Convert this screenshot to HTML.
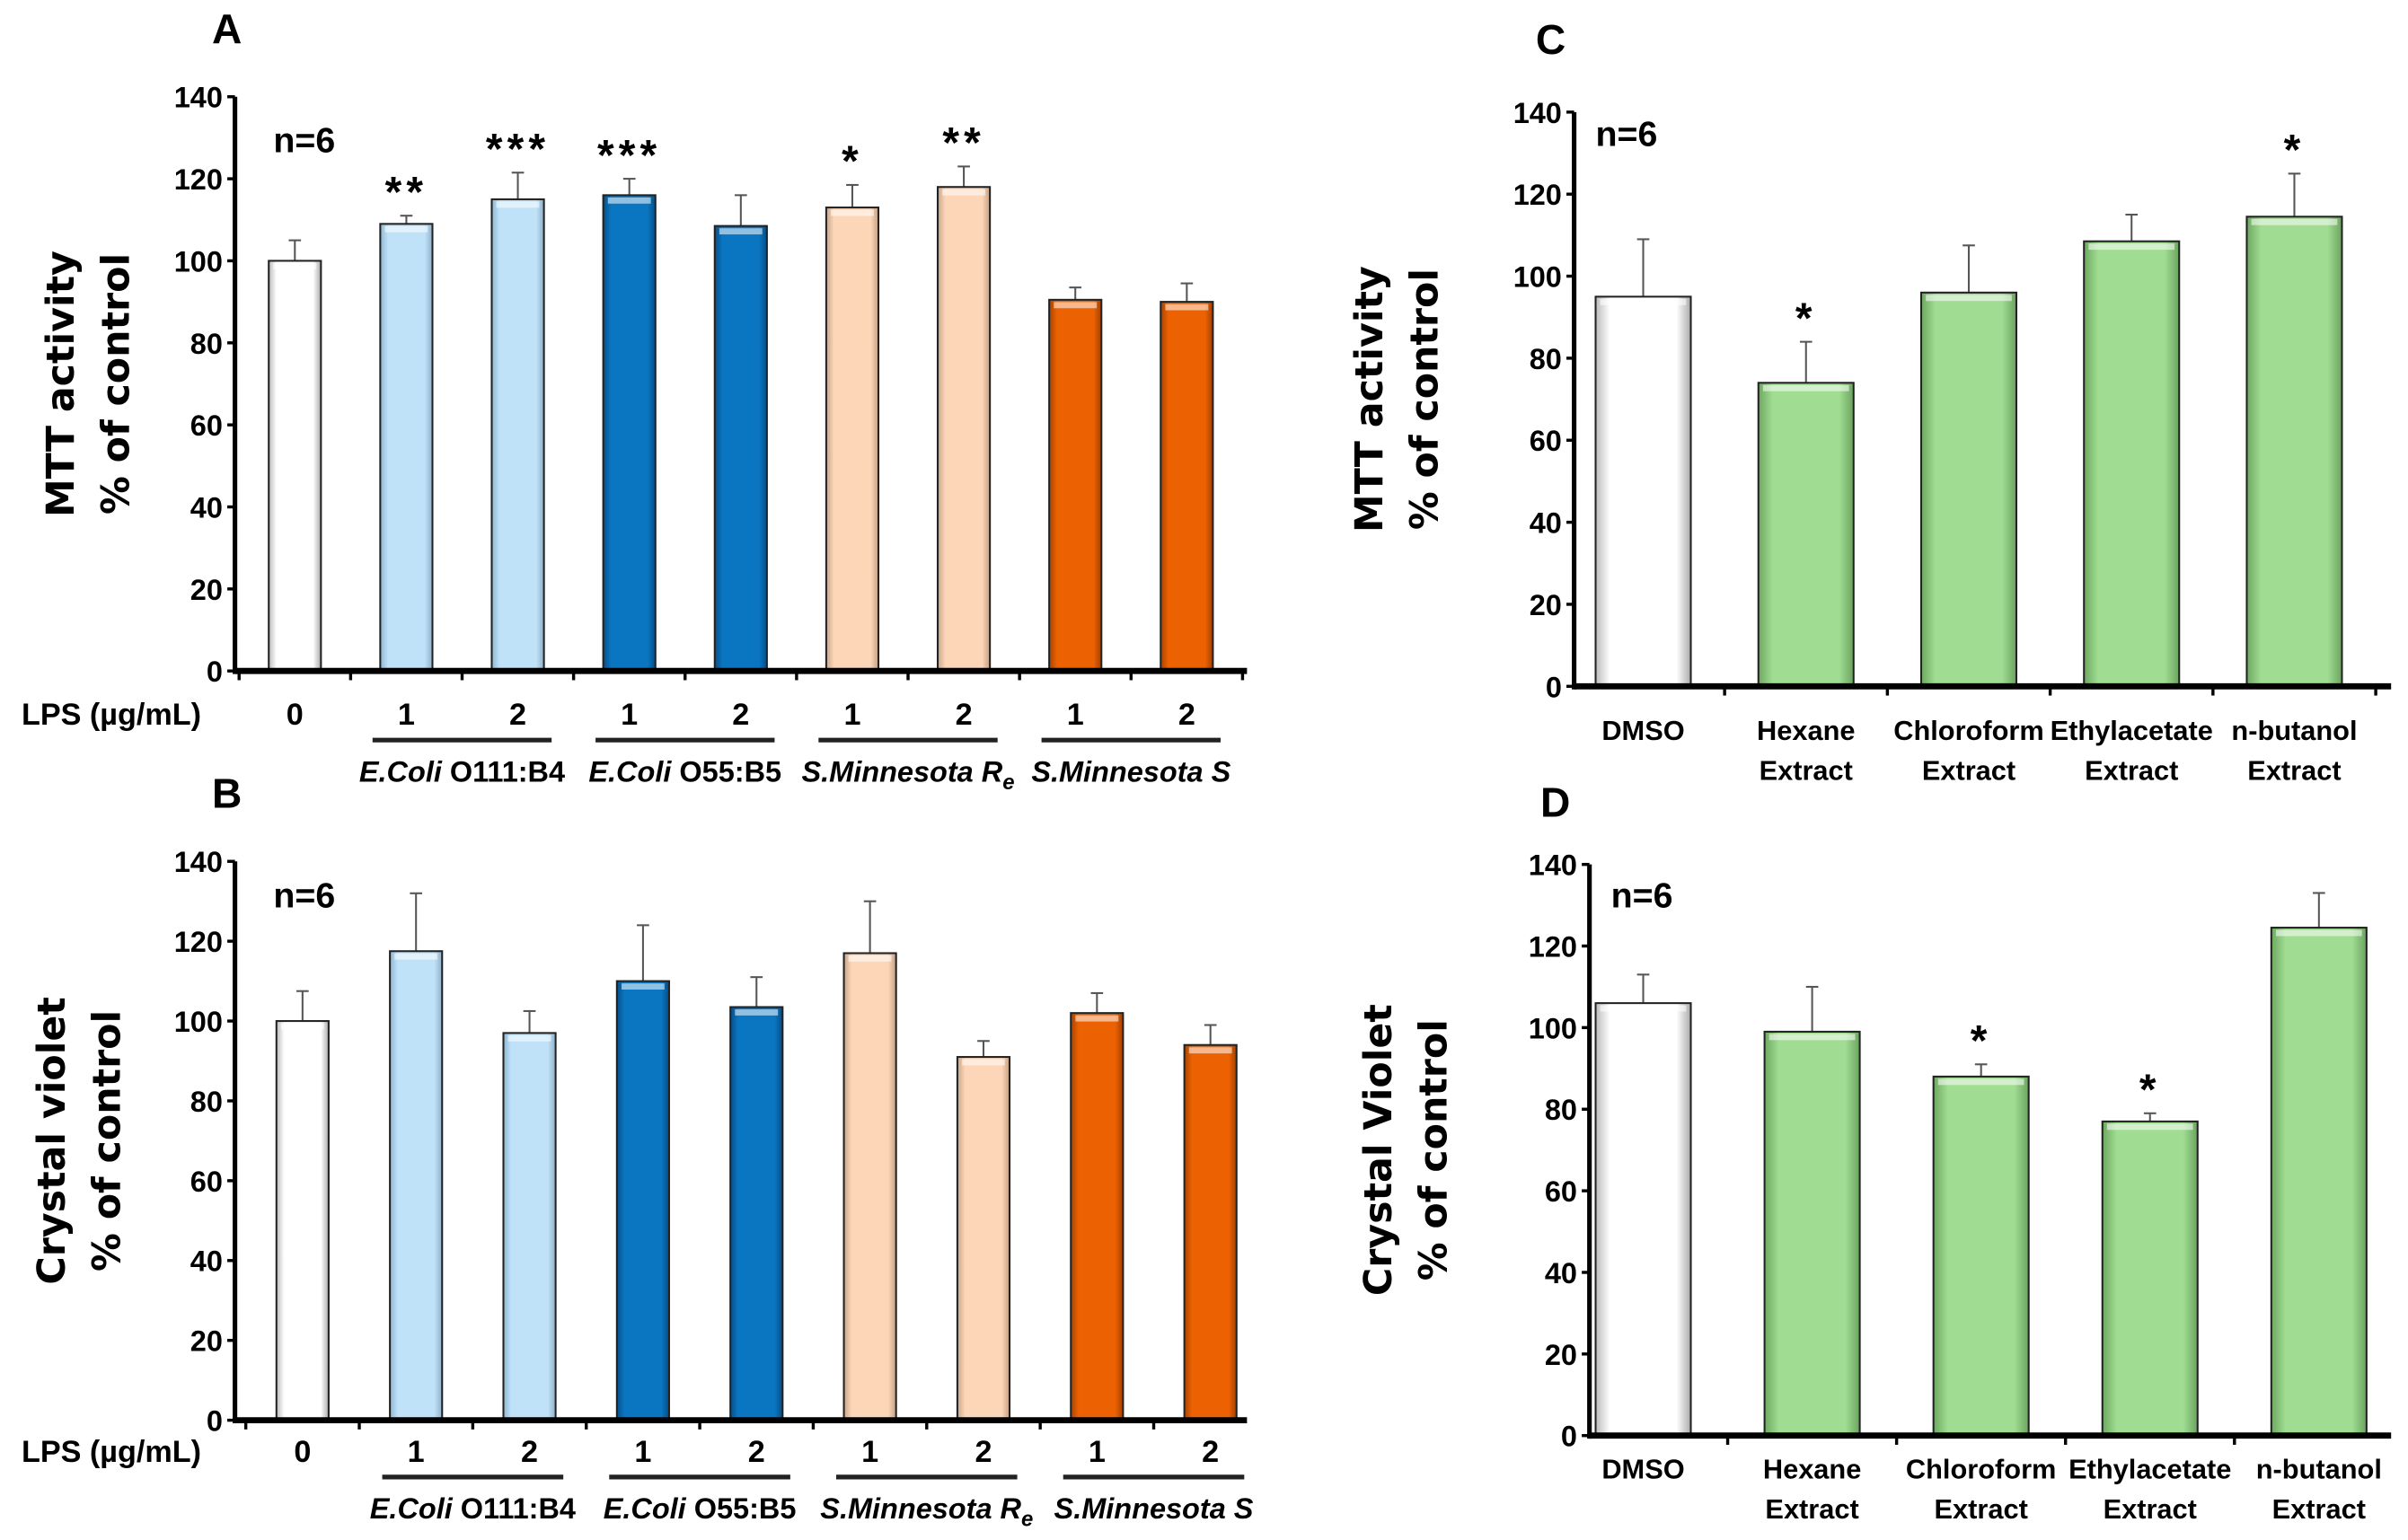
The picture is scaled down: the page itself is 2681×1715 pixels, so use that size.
<!DOCTYPE html>
<html><head><meta charset="utf-8"><style>
html,body{margin:0;padding:0;background:#fff}
svg{display:block}
text{font-family:"Liberation Sans Narrow","Liberation Sans",sans-serif;font-weight:bold;fill:#000}
.ttl{font-family:"DejaVu Sans","Liberation Sans",sans-serif;font-weight:bold}
</style></head><body>
<svg id="fig" width="2681" height="1715" viewBox="0 0 1568 1003" xmlns="http://www.w3.org/2000/svg">
<defs>
<linearGradient id="gw" x1="0" x2="1"><stop offset="0" stop-color="#bbb"/><stop offset="0.15" stop-color="#fff"/><stop offset="0.85" stop-color="#fff"/><stop offset="1" stop-color="#aaa"/></linearGradient>
<linearGradient id="glb" x1="0" x2="1"><stop offset="0" stop-color="#8fb6d2"/><stop offset="0.15" stop-color="#bfe2f9"/><stop offset="0.85" stop-color="#bfe2f9"/><stop offset="1" stop-color="#8fb0c8"/></linearGradient>
<linearGradient id="gb" x1="0" x2="1"><stop offset="0" stop-color="#05508a"/><stop offset="0.15" stop-color="#0a76c2"/><stop offset="0.85" stop-color="#0a76c2"/><stop offset="1" stop-color="#054d85"/></linearGradient>
<linearGradient id="gp" x1="0" x2="1"><stop offset="0" stop-color="#c9a68a"/><stop offset="0.15" stop-color="#fdd6b7"/><stop offset="0.85" stop-color="#fdd6b7"/><stop offset="1" stop-color="#c29f84"/></linearGradient>
<linearGradient id="go" x1="0" x2="1"><stop offset="0" stop-color="#a84300"/><stop offset="0.15" stop-color="#ec6202"/><stop offset="0.85" stop-color="#ec6202"/><stop offset="1" stop-color="#a04000"/></linearGradient>
<linearGradient id="gg" x1="0" x2="1"><stop offset="0" stop-color="#6da860"/><stop offset="0.15" stop-color="#a0dc92"/><stop offset="0.85" stop-color="#a0dc92"/><stop offset="1" stop-color="#6aa35e"/></linearGradient>
</defs>
</svg>
<script>
// Panel A data
const catsA=["0","1","2","1","2","1","2","1","2"];
const valsA=[100,109,115,116,108.5,113,118,90.5,90];
const errA=[105,111,121.5,120,116,118.5,123,93.5,94.5];
const starsA=["","**","***","***","","*","**","",""];
// Panel B data
const valsB=[100,117.5,97,110,103.5,117,91,102,94];
const errB=[107.5,132,102.5,124,111,130,95,107,99];
const starsB=["","","","","","","","",""];
// Panel C data
const catsC=[["DMSO",""],["Hexane","Extract"],["Chloroform","Extract"],["Ethylacetate","Extract"],["n-butanol","Extract"]];
const valsC=[95,74,96,108.5,114.5];
const errC=[109,84,107.5,115,125];
const starsC=["","*","","","*"];
// Panel D data
const valsD=[106,99,88,77,124.5];
const errD=[113,110,91,79,133];
const starsD=["","","*","*",""];
const ticks=[0,20,40,60,80,100,120,140];
const fillsAB=["gw","glb","glb","gb","gb","gp","gp","go","go"];
const fillsCD=["gw","gg","gg","gg","gg"];

const svg=document.getElementById('fig');
const NS="http://www.w3.org/2000/svg";
function mk(tag,attrs,txt){const e=document.createElementNS(NS,tag);for(const k in attrs)e.setAttribute(k,attrs[k]);if(txt!==undefined)e.textContent=txt;svg.appendChild(e);return e;}

function panel(o){
  const y=v=>o.y0-(o.y0-o.y140)*v/140;
  const x=i=>o.x0+o.first+i*o.step;
  o.vals.forEach((v,i)=>{
    const cx=x(i);
    const eb=mk('line',{x1:cx,x2:cx,y1:y(v),y2:y(o.err[i]),stroke:'#555','stroke-width':1.2});
    
    const cap=mk('line',{x1:cx-4,x2:cx+4,y1:y(o.err[i]),y2:y(o.err[i]),stroke:'#555','stroke-width':1.2});
    
    const r=mk('rect',{x:cx-o.bw/2,y:y(v),width:o.bw,height:o.y0-y(v),fill:'url(#'+o.fills[i]+')',stroke:'#222','stroke-width':1.2});
    
    const hl=mk('rect',{x:cx-o.bw/2+3,y:y(v)+1.5,width:o.bw-6,height:4,fill:'#fff',opacity:0.55});
    
    if(o.stars[i]){const s=mk('text',{x:cx,y:y(o.err[i])-6,'text-anchor':'middle','font-size':28,'font-weight':'normal','letter-spacing':3},o.stars[i]);
      }
  });
  const ya=mk('line',{x1:o.x0,x2:o.x0,y1:o.y140,y2:o.y0+2,stroke:'#000','stroke-width':3});
  
  const xa=mk('line',{x1:o.x0,x2:o.xend,y1:o.y0,y2:o.y0,stroke:'#000','stroke-width':4});
  
  ticks.forEach(t=>{
    const tl=mk('line',{x1:o.x0-5,x2:o.x0,y1:y(t),y2:y(t),stroke:'#000','stroke-width':2});
    
    const tx=mk('text',{x:o.x0-8,y:y(t)+7,'text-anchor':'end','font-size':19},String(t));
    
  });
  for(let i=0;i<=o.vals.length;i++){
    const xx=o.x0+o.first-o.step/2+i*o.step;
    if(xx<=o.x0+2||xx>o.xend)continue;
    const tk=mk('line',{x1:xx,x2:xx,y1:o.y0,y2:o.y0+6,stroke:'#000','stroke-width':2});
    
  }
  const g=mk('text',{class:'ttl','font-size':25,'text-anchor':'middle',transform:`translate(${o.tx},${(o.y0+o.y140)/2}) rotate(-90)`});
  
  const t1=document.createElementNS(NS,'tspan');t1.setAttribute('x',0);t1.setAttribute('dy',0);t1.textContent=o.title;g.appendChild(t1);
  const t2=document.createElementNS(NS,'tspan');t2.setAttribute('x',0);t2.setAttribute('dy',36);t2.textContent='% of control';g.appendChild(t2);
  const n=mk('text',{x:o.x0+o.nx,y:o.y140+o.ny,'font-size':23},'n=6');
  
  const L=mk('text',{x:o.lx,y:o.ly,'font-size':27},o.letter);
  
  return {x,y};
}

const groups=["E.Coli O111:B4","E.Coli O55:B5","S.Minnesota Re","S.Minnesota S"];
function lpsLabels(o,p,ly,gy){
  const t=mk('text',{x:o.lpsx,y:ly,'font-size':20},'LPS (µg/mL)');
  
  catsA.forEach((c,i)=>{const e=mk('text',{x:p.x(i),y:ly,'text-anchor':'middle','font-size':20},c);
    });
  for(let gi=0;gi<4;gi++){
    const a=p.x(1+gi*2)-22,b=p.x(2+gi*2)+22;
    const ln=mk('line',{x1:a,x2:b,y1:ly+10,y2:ly+10,stroke:'#222','stroke-width':3});
    
    const cx=(p.x(1+gi*2)+p.x(2+gi*2))/2;
    const gt=mk('text',{x:cx,y:gy,'text-anchor':'middle','font-size':19});
    
    if(gi<2){const s=document.createElementNS(NS,'tspan');s.setAttribute('font-style','italic');s.textContent='E.Coli ';gt.appendChild(s);
      const s2=document.createElementNS(NS,'tspan');s2.textContent=groups[gi].slice(7);gt.appendChild(s2);}
    else if(gi==2){const s=document.createElementNS(NS,'tspan');s.setAttribute('font-style','italic');s.textContent='S.Minnesota R';gt.appendChild(s);
      const s2=document.createElementNS(NS,'tspan');s2.setAttribute('font-style','italic');s2.setAttribute('font-size',14);s2.setAttribute('dy',5);s2.textContent='e';gt.appendChild(s2);}
    else {gt.setAttribute('font-style','italic');gt.textContent=groups[gi];}
  }
}
function extLabels(o,p,ly){
  catsC.forEach((c,i)=>{
    const t=mk('text',{x:p.x(i),y:ly,'text-anchor':'middle','font-size':18},c[0]);
    
    if(c[1]){const t2=mk('text',{x:p.x(i),y:ly+26,'text-anchor':'middle','font-size':18},c[1]);
      }
  });
}

const A={id:'panel-a',x0:153,y0:437,y140:63,first:39,step:72.6,bw:34,xend:812,vals:valsA,err:errA,stars:starsA,fills:fillsAB,title:'MTT activity',tx:48,letter:'A',lx:138,ly:28,lpsx:14,nx:25,ny:36};
const pA=panel(A);lpsLabels(A,pA,472,509);
const B={id:'panel-b',x0:153,y0:925,y140:561,first:44,step:73.9,bw:34,xend:812,vals:valsB,err:errB,stars:starsB,fills:fillsAB,title:'Crystal violet',tx:42,letter:'B',lx:138,ly:526,lpsx:14,nx:25,ny:30};
const pB=panel(B);lpsLabels(B,pB,952,989);
const C={id:'panel-c',x0:1025,y0:447,y140:73,first:45,step:106,bw:62,xend:1557,vals:valsC,err:errC,stars:starsC,fills:fillsCD,title:'MTT activity',tx:900,letter:'C',lx:1000,ly:35,nx:14,ny:22};
const pC=panel(C);extLabels(C,pC,482);
const D={id:'panel-d',x0:1035,y0:935,y140:563,first:35,step:110,bw:62,xend:1557,vals:valsD,err:errD,stars:starsD,fills:fillsCD,title:'Crystal Violet',tx:906,letter:'D',lx:1003,ly:532,nx:14,ny:28};
const pD=panel(D);extLabels(D,pD,963);
</script>
</body></html>
